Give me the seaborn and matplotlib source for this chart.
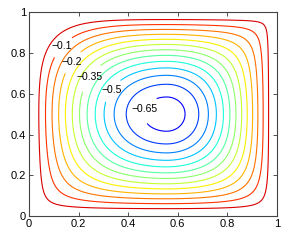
import numpy as np
import matplotlib
matplotlib.use("Agg")
import matplotlib.pyplot as plt
import seaborn as sns

# contour levels and the labelled ones
levels = [-0.65, -0.6, -0.55, -0.5, -0.45, -0.4, -0.35, -0.3, -0.25, -0.2, -0.15, -0.1, -0.05]
label_levels = [-0.65, -0.5, -0.35, -0.2, -0.1]
label_x = [0.48, 0.327, 0.238, 0.157, 0.113]
label_y = [0.52, 0.623, 0.686, 0.77, 0.853]
label_text = ['\u22120.65', '\u22120.5', '\u22120.35', '\u22120.2', '\u22120.1']

# vortex shape: centre, depth, wall layer and corner sharpness (TL, TR, BL, BR)
centre_x = 0.555
centre_y = 0.5
depth = 0.675
wall = 0.018
corner_p = [-0.35, 1.0, 0.5, 0.45]

xs = np.linspace(0, 1, 401)
X, Y = np.meshgrid(xs, xs)


def soft(d):
    # distance with a thin no-slip layer at the wall
    return np.sqrt(d ** 2 + wall ** 2) - wall


def profile(t, c):
    lo = np.sin(np.pi / 2 * soft(t) / soft(c))
    hi = np.sin(np.pi / 2 * soft(1 - t) / soft(1 - c))
    return np.clip(np.where(t < c, lo, hi), 1e-6, 1)


gx = profile(X, centre_x)
gy = profile(Y, centre_y)

p_tl, p_tr, p_bl, p_br = corner_p
P = p_bl * (1 - X) * (1 - Y) + p_br * X * (1 - Y) + p_tl * (1 - X) * Y + p_tr * X * Y
P = np.where(np.abs(P) < 1e-3, 1e-3, P)
base = np.clip(gx ** -P + gy ** -P - 1, 1e-12, None)
F = np.where(P > 0, base ** (-1 / P), np.where(gx ** -P + gy ** -P - 1 > 0, base ** (-1 / P), 0))
psi = -depth * F

sns.set_style("ticks")
plt.rcParams['font.family'] = ['Liberation Sans', 'DejaVu Sans']

cmap = matplotlib.colormaps['jet']
level_color = {lv: cmap(v) for lv, v in zip(levels, np.linspace(0.12, 0.92, len(levels)))}
plain_levels = [lv for lv in levels if lv not in label_levels]

fig = plt.figure(figsize=(2.91, 2.42), dpi=100)
ax = fig.add_axes([0.0997, 0.107, 0.852, 0.843])
ax.contour(X, Y, psi, levels=plain_levels,
           colors=[level_color[lv] for lv in plain_levels], linewidths=0.8)
cs = ax.contour(X, Y, psi, levels=label_levels,
                colors=[level_color[lv] for lv in label_levels], linewidths=0.8)
texts = ax.clabel(cs, manual=list(zip(label_x, label_y)),
                  fmt=dict(zip(label_levels, label_text)), fontsize=7.5, inline=True,
                  inline_spacing=3, colors='black')
for t in texts:
    t.set_rotation(0)

ax.set_xlim(0, 1)
ax.set_ylim(0, 1)
ticks = [0, 0.2, 0.4, 0.6, 0.8, 1]
ax.set_xticks(ticks)
ax.set_yticks(ticks)
ax.set_xticklabels(['0', '0.2', '0.4', '0.6', '0.8', '1'])
ax.set_yticklabels(['0', '0.2', '0.4', '0.6', '0.8', '1'])
ax.tick_params(direction='in', length=3, width=0.6, labelsize=8, top=True, right=True, pad=2, colors='#333333', labelcolor='black')
for s in ax.spines.values():
    s.set_linewidth(0.8)
    s.set_color('#444444')

fig.savefig('out.png', dpi=100)
